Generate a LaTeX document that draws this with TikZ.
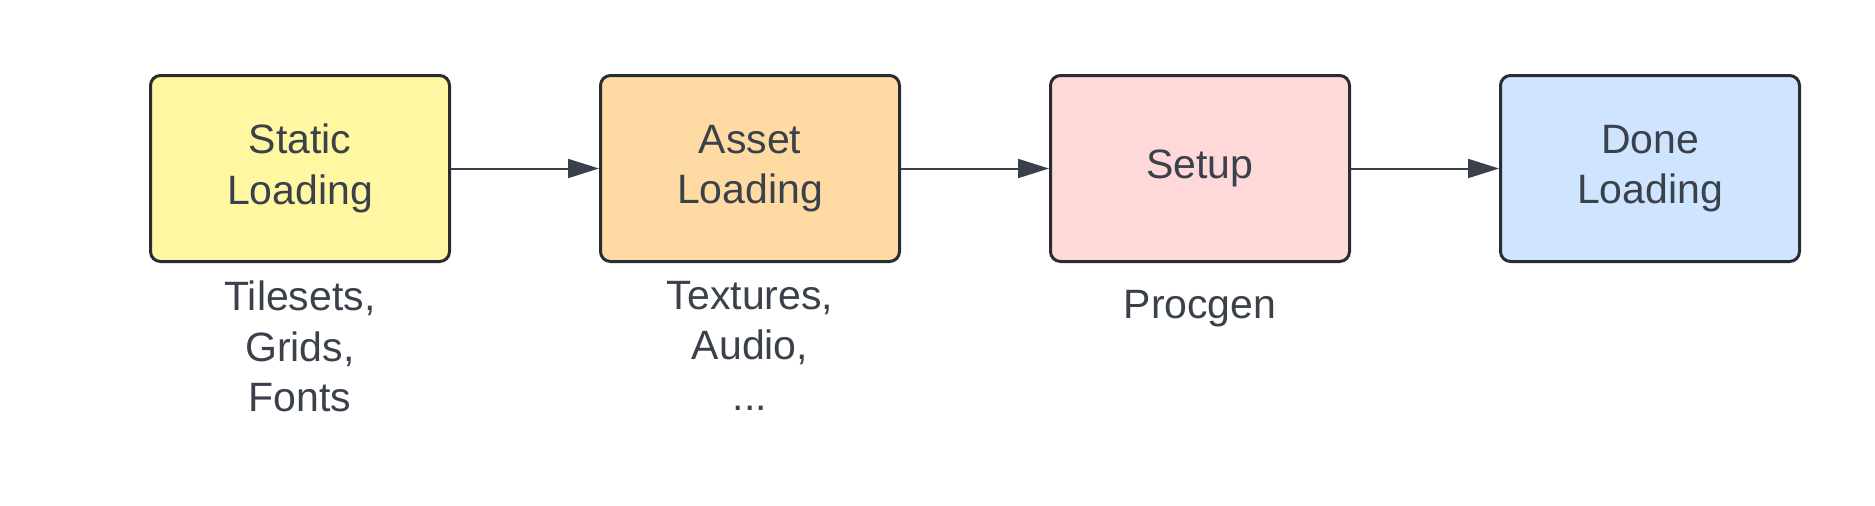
\documentclass[tikz,border=0pt]{standalone}
\usepackage{fontspec}
\setmainfont{Liberation Sans}
\usetikzlibrary{arrows.meta}
\definecolor{ink}{HTML}{3A414A}
\definecolor{edge}{HTML}{282C33}
\definecolor{fyellow}{HTML}{FFF7A1}
\definecolor{forange}{HTML}{FFDBA3}
\definecolor{fpink}{HTML}{FFD9D9}
\definecolor{fblue}{HTML}{CFE4FF}
\begin{document}
\begin{tikzpicture}[x=1pt,y=-1pt,
  box/.style={draw=edge, line width=3pt, rounded corners=10pt, minimum width=299pt, minimum height=186pt, align=center, text=ink, font=\fontsize{41}{50.6}\selectfont, inner sep=0pt},
  note/.style={align=center, text=ink, font=\fontsize{41}{50.6}\selectfont, anchor=north, inner sep=0pt},
  link/.style={draw=ink, line width=2pt, -{Triangle[length=31pt,width=19pt]}}]
\useasboundingbox (0,0) rectangle (1875,506);
\fill[white] (0,0) rectangle (1875,506);
\node[box, fill=fyellow] (s) at (300,168.5) {Static\\Loading};
\node[box, fill=forange] (a) at (750,168.5) {Asset\\Loading};
\node[box, fill=fpink] (p) at (1200,168.5) {\raisebox{4pt}{Setup}};
\node[box, fill=fblue] (d) at (1650,168.5) {Done\\Loading};
\draw[link] (s.east) -- (a.west);
\draw[link] (a.east) -- (p.west);
\draw[link] (p.east) -- (d.west);
\node[note] (ns) at (300,280.6) {Tilesets,\\Grids,\\Fonts};
\node[note] (na) at (750,280.6) {Textures,\\Audio,\\...};
\node[note] (np) at (1200,289.6) {Procgen};
\end{tikzpicture}
\end{document}
